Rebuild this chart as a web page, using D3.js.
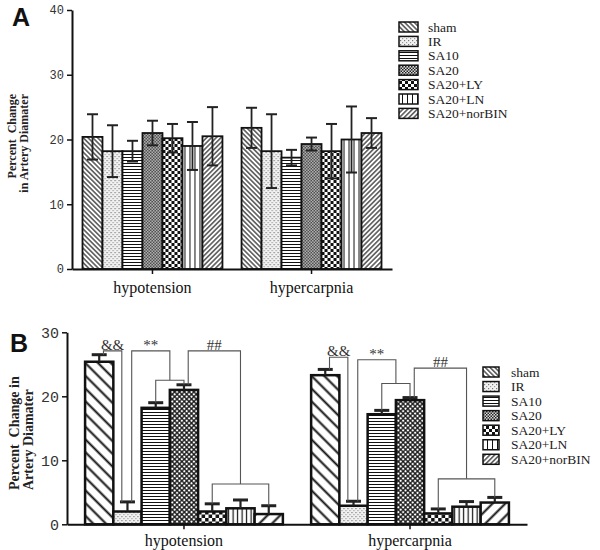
<!DOCTYPE html>
<html>
<head>
<meta charset="utf-8">
<script src="https://cdn.jsdelivr.net/npm/d3@7"></script>
<style>
  body { margin: 0; background: #fff; }
  svg { display: block; }
</style>
</head>
<body>
<svg id="chart" width="600" height="550"></svg>
<script>
const groups = ['hypotension', 'hypercarpnia'];
const series = ['sham', 'IR', 'SA10', 'SA20', 'SA20+LY', 'SA20+LN', 'SA20+norBIN'];

// panel A: mean and SEM per group
const meanA_hypotension = [20.4, 18.2, 18.2, 21.0, 20.2, 19.0, 20.5];
const errA_hypotension = [3.5, 4.0, 1.6, 1.9, 2.2, 3.7, 4.5];
const meanA_hypercarpnia = [21.8, 18.2, 17.2, 19.3, 18.2, 20.0, 21.0];
const errA_hypercarpnia = [3.1, 5.7, 1.2, 1.0, 4.2, 5.1, 2.3];

// panel B
const meanB_hypotension = [25.4, 2.0, 18.2, 21.0, 2.0, 2.5, 1.6];
const errB_hypotension = [1.1, 1.5, 0.8, 0.8, 1.2, 1.3, 1.3];
const meanB_hypercarpnia = [23.3, 2.9, 17.2, 19.4, 1.7, 2.75, 3.4];
const errB_hypercarpnia = [0.9, 0.7, 0.6, 0.4, 0.7, 0.8, 0.8];

const ticksA = [0, 10, 20, 30, 40];
const ticksB = [0, 10, 20, 30];

// significance brackets in panel B (bar indices, level in data units)
const bracketsB = [
  { group: 'hypotension', label: '&&', level: 27.1, from: [0], to: [1] },
  { group: 'hypotension', label: '**', level: 27.1, from: [1], to: [2, 3], sub: 22.5 },
  { group: 'hypotension', label: '##', level: 27.1, from: [3], to: [4, 6], sub: 6.3 },
  { group: 'hypercarpnia', label: '&&', level: 26.1, from: [0], to: [1] },
  { group: 'hypercarpnia', label: '**', level: 25.7, from: [1], to: [2, 3], sub: 22.0 },
  { group: 'hypercarpnia', label: '##', level: 24.4, from: [3], to: [4, 6], sub: 7.1 },
];

const svg = d3.select('#chart');
const defs = svg.append('defs');
const serif = '"Liberation Serif", "Times New Roman", serif';
const mono = '"Liberation Mono", "Courier New", monospace';

function patLines(id, size, width, angle) {
  const p = defs.append('pattern').attr('id', id)
    .attr('patternUnits', 'userSpaceOnUse')
    .attr('width', size).attr('height', size)
    .attr('patternTransform', 'rotate(' + angle + ')');
  p.append('rect').attr('width', size).attr('height', size).attr('fill', '#fff');
  p.append('line').attr('x1', size / 2).attr('x2', size / 2)
    .attr('y1', 0).attr('y2', size)
    .attr('stroke', '#111').attr('stroke-width', width);
}

function patChecker(id, size, bg, fg) {
  const p = defs.append('pattern').attr('id', id)
    .attr('patternUnits', 'userSpaceOnUse')
    .attr('width', size * 2).attr('height', size * 2);
  p.append('rect').attr('width', size * 2).attr('height', size * 2).attr('fill', bg);
  p.append('rect').attr('width', size).attr('height', size).attr('fill', fg);
  p.append('rect').attr('x', size).attr('y', size).attr('width', size).attr('height', size).attr('fill', fg);
}

function patStipple(id) {
  const p = defs.append('pattern').attr('id', id)
    .attr('patternUnits', 'userSpaceOnUse')
    .attr('width', 4).attr('height', 4);
  p.append('rect').attr('width', 4).attr('height', 4).attr('fill', '#f2f2f2');
  p.append('rect').attr('x', 0).attr('y', 0).attr('width', 1.2).attr('height', 1.2).attr('fill', '#777');
  p.append('rect').attr('x', 2).attr('y', 2).attr('width', 1.2).attr('height', 1.2).attr('fill', '#999');
}

function patCross(id, size, width) {
  const p = defs.append('pattern').attr('id', id)
    .attr('patternUnits', 'userSpaceOnUse')
    .attr('width', size).attr('height', size)
    .attr('patternTransform', 'rotate(45)');
  p.append('rect').attr('width', size).attr('height', size).attr('fill', '#fff');
  p.append('line').attr('x1', size / 2).attr('x2', size / 2).attr('y1', 0).attr('y2', size)
    .attr('stroke', '#111').attr('stroke-width', width);
  p.append('line').attr('y1', size / 2).attr('y2', size / 2).attr('x1', 0).attr('x2', size)
    .attr('stroke', '#111').attr('stroke-width', width);
}

// fine patterns (panel A, legends)
patLines('a0', 3.4, 1.1, -45);
patStipple('a1');
patLines('a2', 3, 1, 90);
patChecker('a3', 1.5, '#ddd', '#222');
patChecker('a4', 3, '#fff', '#111');
patLines('a5', 5, 1, 0);
patLines('a6', 3.4, 1.1, 45);
// coarse patterns (panel B)
patLines('b0', 9, 2, -45);
patStipple('b1');
patLines('b2', 3, 1, 90);
patCross('b3', 3.4, 1.3);
patChecker('b4', 3.5, '#fff', '#111');
patLines('b5', 4.5, 1.2, 0);
patLines('b6', 9, 2, 45);

function drawPanel(cfg) {
  const g = svg.append('g');
  const y = d3.scaleLinear().domain(cfg.domain).range([cfg.y0, cfg.y1]);
  const x0 = d3.scaleBand().domain(groups).range([cfg.xl, cfg.xr])
    .paddingInner(cfg.pIn).paddingOuter(cfg.pOut);
  const x1 = d3.scaleBand().domain(series).range([0, x0.bandwidth()]);

  const rows = [];
  groups.forEach((grp) => {
    series.forEach((s, i) => {
      rows.push({ group: grp, series: s, i, v: cfg.means[grp][i], e: cfg.errs[grp][i] });
    });
  });

  const bars = g.selectAll('g.bar').data(rows).enter().append('g')
    .attr('transform', (d) => 'translate(' + (x0(d.group) + x1(d.series)) + ',0)');

  bars.append('rect')
    .attr('x', 0)
    .attr('y', (d) => y(d.v))
    .attr('width', x1.bandwidth())
    .attr('height', (d) => y(0) - y(d.v))
    .attr('fill', (d) => 'url(#' + cfg.pat + d.i + ')')
    .attr('stroke', '#111')
    .attr('stroke-width', cfg.barStroke);

  const cx = x1.bandwidth() / 2;
  const cw = cfg.capW / 2;
  bars.append('line')
    .attr('x1', cx).attr('x2', cx)
    .attr('y1', (d) => cfg.twoSided ? y(d.v - d.e) : y(d.v))
    .attr('y2', (d) => y(d.v + d.e))
    .attr('stroke', '#222').attr('stroke-width', cfg.errStroke);
  bars.append('line')
    .attr('x1', cx - cw).attr('x2', cx + cw)
    .attr('y1', (d) => y(d.v + d.e)).attr('y2', (d) => y(d.v + d.e))
    .attr('stroke', '#222').attr('stroke-width', cfg.capStroke);
  if (cfg.twoSided) {
    bars.append('line')
      .attr('x1', cx - cw).attr('x2', cx + cw)
      .attr('y1', (d) => y(d.v - d.e)).attr('y2', (d) => y(d.v - d.e))
      .attr('stroke', '#222').attr('stroke-width', cfg.capStroke);
  }

  // axes
  const yAxis = g.append('g')
    .attr('transform', 'translate(' + cfg.xl + ',0)')
    .call(d3.axisLeft(y).tickValues(cfg.ticks).tickSize(5).tickSizeOuter(0).tickPadding(3));
  yAxis.select('.domain').attr('stroke', '#111').attr('stroke-width', 2);
  yAxis.selectAll('.tick line').attr('stroke', '#111').attr('stroke-width', 1.5);
  yAxis.selectAll('.tick text')
    .attr('font-family', mono).attr('font-size', cfg.tickFont).attr('fill', '#333');

  const xAxis = g.append('g')
    .attr('transform', 'translate(0,' + cfg.y0 + ')')
    .call(d3.axisBottom(x0).tickSize(5).tickSizeOuter(0).tickPadding(cfg.catPad));
  xAxis.select('.domain').attr('stroke', '#111').attr('stroke-width', 2);
  xAxis.selectAll('.tick line').attr('stroke', '#111').attr('stroke-width', 1.5);
  xAxis.selectAll('.tick text')
    .attr('font-family', serif).attr('font-size', 16).attr('fill', '#111');

  // y title
  cfg.title.forEach((t, k) => {
    g.append('text')
      .attr('transform', 'translate(' + cfg.titleX[k] + ',' + cfg.titleY + ') rotate(-90)')
      .attr('text-anchor', cfg.titleAnchor)
      .attr('font-family', serif).attr('font-weight', 'bold')
      .attr('font-size', cfg.titleFont).attr('fill', '#222')
      .style('white-space', 'pre')
      .text(t);
  });

  // panel letter
  g.append('text')
    .attr('x', cfg.letterX).attr('y', cfg.letterY)
    .attr('font-family', '"Liberation Sans", Arial, sans-serif')
    .attr('font-weight', 'bold').attr('font-size', 25).attr('fill', '#111')
    .text(cfg.letter);

  // legend
  const lg = g.append('g');
  series.forEach((s, i) => {
    const yy = cfg.legY + i * cfg.legStep;
    lg.append('rect')
      .attr('x', cfg.legX).attr('y', yy - 5)
      .attr('width', cfg.legW).attr('height', 10)
      .attr('fill', 'url(#a' + i + ')')
      .attr('stroke', '#111').attr('stroke-width', 1.5);
    lg.append('text')
      .attr('x', cfg.legTextX).attr('y', yy + 4.5)
      .attr('font-family', serif).attr('font-size', 13.5).attr('fill', '#222')
      .text(s);
  });

  return { g, x0, x1, y, rows };
}

const panelA = drawPanel({
  letter: 'A', letterX: 12, letterY: 26,
  domain: [0, 40], y0: 269, y1: 10, ticks: ticksA, tickFont: 12,
  xl: 72, xr: 392, pIn: 0.12, pOut: 0.066,
  means: { hypotension: meanA_hypotension, hypercarpnia: meanA_hypercarpnia },
  errs: { hypotension: errA_hypotension, hypercarpnia: errA_hypercarpnia },
  pat: 'a', barStroke: 1.8, twoSided: true, capW: 11, errStroke: 1.8, capStroke: 2,
  catPad: 8,
  title: ['Percent  Change', 'in Artery Diamater'], titleX: [16, 28], titleY: 94,
  titleAnchor: 'end', titleFont: 12,
  legX: 399, legW: 19, legY: 27, legStep: 14.4, legTextX: 428,
});

const panelB = drawPanel({
  letter: 'B', letterX: 10, letterY: 352,
  domain: [0, 30], y0: 524.3, y1: 332.3, ticks: ticksB, tickFont: 15,
  xl: 67, xr: 527, pIn: 0.125, pOut: 0.08,
  means: { hypotension: meanB_hypotension, hypercarpnia: meanB_hypercarpnia },
  errs: { hypotension: errB_hypotension, hypercarpnia: errB_hypercarpnia },
  pat: 'b', barStroke: 2.5, twoSided: false, capW: 15, errStroke: 2.2, capStroke: 3,
  catPad: 5,
  title: ['Percent  Change in', 'Artery Diamater'], titleX: [19, 33], titleY: 490,
  titleAnchor: 'start', titleFont: 14,
  legX: 483, legW: 16, legY: 372, legStep: 14.55, legTextX: 511,
});

// brackets
(function drawBrackets(p) {
  const bw = p.x1.bandwidth();
  const center = (grp, i) => p.x0(grp) + p.x1(series[i]) + bw / 2;
  const top = (grp, i) => {
    const r = p.rows.find((d) => d.group === grp && d.i === i);
    return p.y(r.v + r.e);
  };
  const bg = p.g.append('g')
    .attr('fill', 'none').attr('stroke', '#555').attr('stroke-width', 1.1);

  function end(b, idx, side) {
    if (idx.length === 1) {
      const off = side === 'left' ? 0.15 * bw : -0.2 * bw;
      return { x: center(b.group, idx[0]) + off, bottom: top(b.group, idx[0]) };
    }
    const xa = center(b.group, idx[0]);
    const xb = center(b.group, idx[1]);
    const ys = p.y(b.sub);
    bg.append('path').attr('d',
      'M' + xa + ',' + top(b.group, idx[0]) + 'V' + ys + 'H' + xb + 'V' + top(b.group, idx[1]));
    return { x: (xa + xb) / 2, bottom: ys };
  }

  bracketsB.forEach((b) => {
    const l = end(b, b.from, 'left');
    const r = end(b, b.to, 'right');
    const yl = p.y(b.level);
    bg.append('path').attr('d',
      'M' + l.x + ',' + l.bottom + 'V' + yl + 'H' + r.x + 'V' + r.bottom);
    p.g.append('text')
      .attr('x', (l.x + r.x) / 2).attr('y', yl - 1)
      .attr('text-anchor', 'middle')
      .attr('font-family', serif).attr('font-size', 15).attr('fill', '#333')
      .text(b.label);
  });
})(panelB);
</script>
</body>
</html>
